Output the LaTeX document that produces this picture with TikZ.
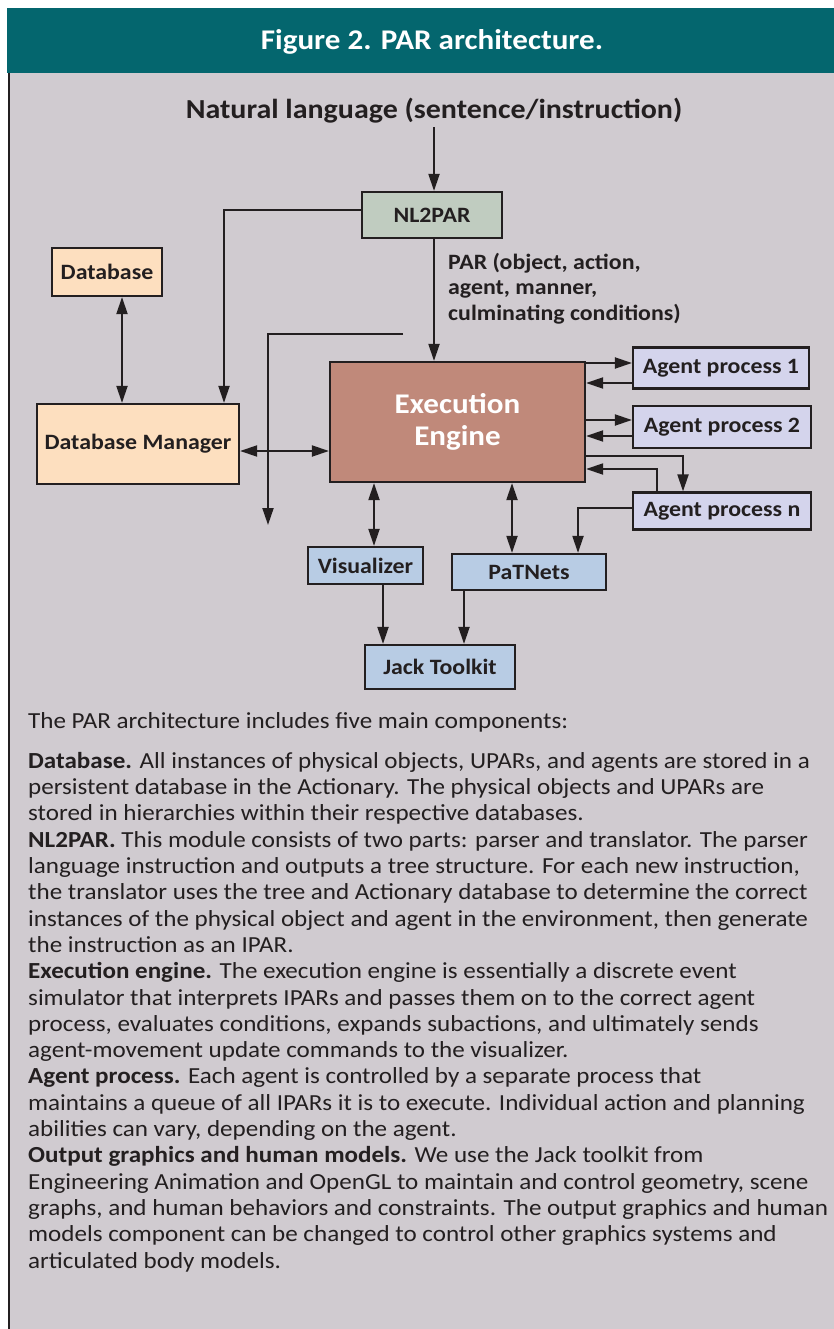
\documentclass[tikz,border=0pt]{standalone}
\usepackage{fontspec}
\setmainfont{Carlito}[FakeStretch=1.09]
\usetikzlibrary{arrows.meta,positioning}

\definecolor{headteal}{HTML}{04666E}
\definecolor{panelgrey}{HTML}{D0CBD0}
\definecolor{nlgreen}{HTML}{C0CCC0}
\definecolor{dbpeach}{HTML}{FDDFBF}
\definecolor{engbrown}{HTML}{C0897A}
\definecolor{aglilac}{HTML}{D4D4EC}
\definecolor{outblue}{HTML}{B8CCE4}
\definecolor{inkgrey}{HTML}{231F20}

\tikzset{
  box/.style={draw=inkgrey, line width=2.2pt, align=center, inner sep=0pt,
    text=inkgrey, font=\bfseries\fontsize{21.9}{24}\selectfont},
  arr/.style={draw=inkgrey, line width=2pt, -{Triangle[length=17pt,width=11pt]}},
  dbl/.style={draw=inkgrey, line width=2pt,
    {Triangle[length=17pt,width=11pt]}-{Triangle[length=17pt,width=11pt]}},
  plain/.style={draw=inkgrey, line width=2pt},
}

\begin{document}
\begin{tikzpicture}[x=1pt,y=-1pt]
\useasboundingbox (0,0) rectangle (834,1329);
% panel
\fill[headteal] (7,8) rectangle (834,73);
\fill[panelgrey] (8,73) rectangle (834,1329);
\draw[inkgrey, line width=2pt] (8.5,73) -- (8.5,1329);
\node[text=white, font=\bfseries\fontsize{28.5}{32}\selectfont] (title) at (432,42) {Figure 2. PAR architecture.};

% boxes
\node[text=inkgrey, font=\bfseries\fontsize{27.5}{30}\selectfont] (nl) at (434,111) {Natural language (sentence/instruction)};
\node[box, fill=nlgreen, minimum width=140pt, minimum height=46pt] (nl2par) at (432,215) {NL2PAR};
\node[box, fill=dbpeach, minimum width=110pt, minimum height=48pt] (db) at (107,272) {Database};
\node[box, fill=dbpeach, minimum width=202pt, minimum height=80pt] (dbm) at (138,444) {Database Manager};
\node[box, fill=engbrown, text=white, minimum width=255pt, minimum height=120pt,
  font=\bfseries\fontsize{28.5}{32}\selectfont] (ee) at (457.5,422) {Execution\\Engine};
\node[box, fill=aglilac, minimum width=176pt, minimum height=41pt] (ap1) at (721,368) {Agent process 1};
\node[box, fill=aglilac, minimum width=178pt, minimum height=42pt] (ap2) at (722,427) {Agent process 2};
\node[box, fill=aglilac, minimum width=178pt, minimum height=37pt] (apn) at (722,511) {Agent process n};
\node[box, fill=outblue, minimum width=115pt, minimum height=37pt] (vis) at (365.5,565.5) {Visualizer};
\node[box, fill=outblue, minimum width=154pt, minimum height=36pt] (pat) at (529,572) {PaTNets};
\node[box, fill=outblue, minimum width=150pt, minimum height=44pt] (jack) at (440,667) {Jack Toolkit};

\node[anchor=north west, align=left, text=inkgrey, inner sep=0pt,
  font=\bfseries\fontsize{21.9}{25.5}\selectfont] (parlabel) at (448,253)
  {PAR (object, action,\\agent, manner,\\culminating conditions)};

\coordinate (fbstart) at (403,334);
\coordinate (fbend) at (268,525);

% connectors
\draw[arr] (nl.south) -- (nl.south |- nl2par.north);
\draw[arr] ([yshift=5pt]nl2par.west) -| ([xshift=86pt]dbm.north);
\draw[dbl] ([xshift=15pt]db.south) -- ([xshift=15pt]db.south |- dbm.north);
\draw[dbl] ([yshift=-7pt]dbm.east) -- ([yshift=-7pt]dbm.east -| ee.west);
\draw[arr] (fbstart) -| (fbend);
\draw[arr] ([xshift=2pt]nl2par.south) -- ([xshift=2pt]nl2par.south |- ee.north);

\draw[arr] ([yshift=5pt]ap1.west -| ee.east) -- ([yshift=5pt]ap1.west);
\draw[arr] ([yshift=-15pt]ap1.west) -- ([yshift=-15pt]ap1.west -| ee.east);
\draw[arr] ([yshift=7pt]ap2.west -| ee.east) -- ([yshift=7pt]ap2.west);
\draw[arr] ([yshift=-9pt]ap2.west) -- ([yshift=-9pt]ap2.west -| ee.east);
\draw[arr] ([yshift=-34pt]ee.east) -| ([xshift=-39pt]apn.north);
\draw[arr] ([xshift=-65pt]apn.north) |- ([yshift=-47pt]ee.east);
\draw[arr] ([yshift=3pt]apn.west) -| ([xshift=49pt]pat.north);

\draw[dbl] ([xshift=8.5pt]vis.north |- ee.south) -- ([xshift=8.5pt]vis.north);
\draw[dbl] ([xshift=-17pt]pat.north |- ee.south) -- ([xshift=-17pt]pat.north);
\draw[arr] ([xshift=17.5pt]vis.south) -- ([xshift=17.5pt]vis.south |- jack.north);
\draw[arr] ([xshift=-65pt]pat.south) -- ([xshift=-65pt]pat.south |- jack.north);

% description
\node[anchor=west, text=inkgrey, inner sep=0pt, font=\fontsize{23}{26.3}\selectfont] (intro) at (28,722)
  {The PAR architecture includes five main components:};
\node[anchor=north west, align=left, text=inkgrey, inner sep=0pt, font=\fontsize{23}{26.3}\selectfont] (desc) at (28,752)
  {\textbf{Database.} All instances of physical objects, UPARs, and agents are stored in a\\
   persistent database in the Actionary. The physical objects and UPARs are\\
   stored in hierarchies within their respective databases.\\
   \textbf{NL2PAR.} This module consists of two parts: parser and translator. The parser\\
   language instruction and outputs a tree structure. For each new instruction,\\
   the translator uses the tree and Actionary database to determine the correct\\
   instances of the physical object and agent in the environment, then generate\\
   the instruction as an IPAR.\\
   \textbf{Execution engine.} The execution engine is essentially a discrete event\\
   simulator that interprets IPARs and passes them on to the correct agent\\
   process, evaluates conditions, expands subactions, and ultimately sends\\
   agent-movement update commands to the visualizer.\\
   \textbf{Agent process.} Each agent is controlled by a separate process that\\
   maintains a queue of all IPARs it is to execute. Individual action and planning\\
   abilities can vary, depending on the agent.\\
   \textbf{Output graphics and human models.} We use the Jack toolkit from\\
   Engineering Animation and OpenGL to maintain and control geometry, scene\\
   graphs, and human behaviors and constraints. The output graphics and human\\
   models component can be changed to control other graphics systems and\\
   articulated body models.};
\end{tikzpicture}
\end{document}
